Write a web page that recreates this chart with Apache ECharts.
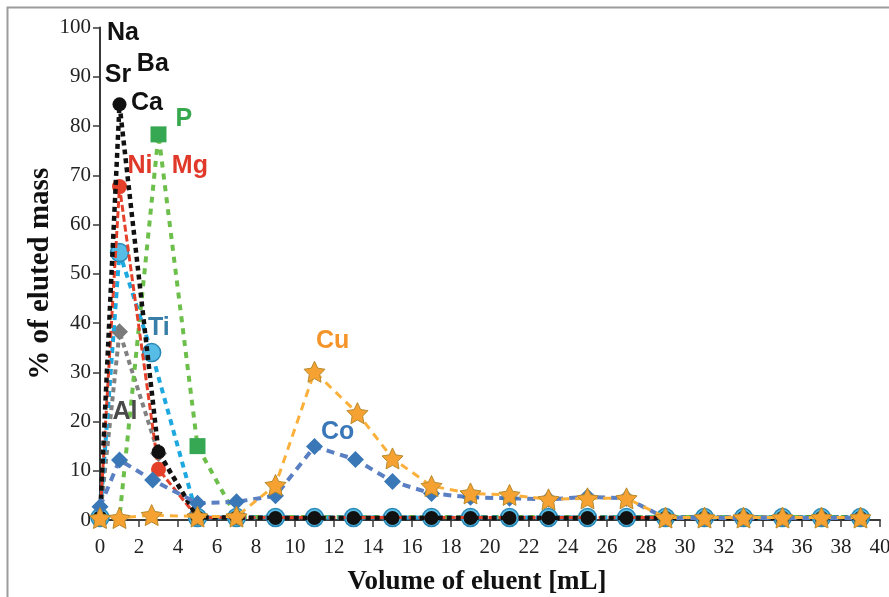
<!DOCTYPE html>
<html><head><meta charset="utf-8">
<script src="https://cdn.jsdelivr.net/npm/echarts@6/dist/echarts.min.js"></script>
<style>html,body{margin:0;padding:0;background:#fff}#c{width:889px;height:597px}</style>
</head><body><div id="c"></div>
<script>
// ---- data ----
const xTicks = [0,2,4,6,8,10,12,14,16,18,20,22,24,26,28,30,32,34,36,38,40];
const yTicks = [0,10,20,30,40,50,60,70,80,90,100];

const caX = [0,1,3,5,7,9,11,13,15,17,19,21,23,25,27,29,31,33,35,37,39];
const caY = [0.5,84.4,13.8,0.5,0.5,0.4,0.4,0.4,0.4,0.4,0.4,0.4,0.4,0.4,0.4,0.4,0.4,0.4,0.4,0.4,0.4];

const niX = [0,1,3,5,7,9,11,13,15,17,19,21,23,25,27,29,31,33,35,37,39];
const niY = [0.5,67.7,10.3,0.5,0.5,0.5,0.5,0.5,0.5,0.5,0.5,0.5,0.5,0.5,0.5,0.5,0.5,0.5,0.5,0.5,0.5];

const tiX = [0,1,2.65,5,7,9,11,13,15,17,19,21,23,25,27,29,31,33,35,37,39];
const tiY = [0.5,54.3,34.0,0.5,0.5,0.5,0.5,0.5,0.5,0.5,0.5,0.5,0.5,0.5,0.5,0.5,0.5,0.5,0.5,0.5,0.5];

const alX = [0,1,3,5,7,9,11,13,15,17,19,21,23,25,27,29,31,33,35,37,39];
const alY = [0.5,38.2,13.5,0.5,0.5,0.5,0.5,0.5,0.5,0.5,0.5,0.5,0.5,0.5,0.5,0.5,0.5,0.5,0.5,0.5,0.5];

const pX = [0,1,3,5,7,9,11,13,15,17,19,21,23,25,27,29,31,33,35,37,39];
const pY = [0.5,0.5,78.3,15.0,0.6,0.6,0.6,0.6,0.6,0.6,0.6,0.6,0.6,0.6,0.6,0.6,0.6,0.6,0.6,0.6,0.6];

const coX = [0,1,2.7,5,7,9,11,13.1,15,17,19,21,23,25,27,29,31,33,35,37,39];
const coY = [2.7,12.2,8.1,3.4,3.7,4.9,14.9,12.3,7.8,5.4,4.6,4.4,4.2,4.7,4.4,0.4,0.4,0.4,0.4,0.4,0.4];

const cuX = [0,1,2.65,5,7,9,11,13.2,15,17,19,21,23,25,27,29,31,33,35,37,39];
const cuY = [0.4,0.4,1.0,0.7,0.7,7.1,30.1,21.7,12.5,6.9,5.4,5.1,4.2,4.4,4.4,0.5,0.5,0.5,0.5,0.5,0.5];

// element labels: text and anchor in data units
const labelText = ['Na','Ba','Sr','Ca','P','Ni','Mg','Ti','Al','Cu','Co'];
const labelAtX  = [1.18,2.71,0.92,2.41,4.30,2.05,4.61,3.02,1.28,11.93,12.19];
const labelAtY  = [98.9,92.6,90.4,84.7,81.4,71.9,71.9,39.0,21.9,36.3,17.9];

const xTitle = 'Volume of eluent [mL]';
const yTitle = '% of eluted mass';

// ---- styles ----
const labelColor = {Na:'#111111',Ba:'#111111',Sr:'#111111',Ca:'#111111',P:'#37a84c',Ni:'#e0392a',Mg:'#e0392a',Ti:'#397ea9',Al:'#4a4a4a',Cu:'#f59428',Co:'#3a77b8'};
const STAR = 'path://M50 0 L64.69 29.77 L97.55 34.55 L73.78 57.73 L79.39 90.45 L50 75 L20.61 90.45 L26.22 57.73 L2.45 34.55 L35.31 29.77 Z';
const zip = (xs, ys) => xs.map((x, i) => [x, ys[i]]);
const bigOnly = (s) => (v) => (v[1] > 1.5 ? s : 0);
const SERIF = '"Liberation Serif", "Times New Roman", serif';

const chart = echarts.init(document.getElementById('c'), null, {renderer:'canvas'});

function lineSeries(name, xs, ys, o) {
  return {
    name, type:'line', data: zip(xs, ys), showAllSymbol:true, animation:false,
    lineStyle:{width:o.w, color:o.lc, type:o.dash, cap:'butt'},
    itemStyle:{color:o.mc, borderColor:o.bc || o.mc, borderWidth:o.bw || 0},
    symbol:o.sym, symbolSize:o.size, z:o.z
  };
}

const series = [
  lineSeries('Al', alX, alY, {w:4, lc:'#808080', dash:[5,4], mc:'#7a7a7a', sym:'diamond', size:bigOnly(17), z:2}),
  lineSeries('P', pX, pY, {w:4, lc:'#6cbf4a', dash:[6,6], mc:'#36a853', sym:'rect', size:bigOnly(16), z:3}),
  lineSeries('Ti', tiX, tiY, {w:4, lc:'#1ea8e0', dash:[6,5], mc:'#58bde6', bc:'#2a88b6', bw:1.5, sym:'circle', size:18, z:4}),
  lineSeries('Ni', niX, niY, {w:3, lc:'#e5402a', dash:[7,3], mc:'#e5402a', sym:'circle', size:bigOnly(15), z:5}),
  lineSeries('Ca', caX, caY, {w:4.5, lc:'#111111', dash:[5,4], mc:'#111111', sym:'circle', size:14, z:6}),
  lineSeries('Co', coX, coY, {w:4, lc:'#5a7fc2', dash:[8,6], mc:'#3a77b7', sym:'diamond', size:17, z:7}),
  lineSeries('Cu', cuX, cuY, {w:3, lc:'#fbb03b', dash:[8,6], mc:'#f6a233', bc:'#b88a2c', bw:1, sym:STAR, size:21, z:8})
];

const frame = {type:'rect', shape:{x:7.5, y:7.5, width:900, height:600}, style:{fill:'none', stroke:'#9c9c9c', lineWidth:2}, z:-1, silent:true};

chart.setOption({
  backgroundColor:'#ffffff',
  animation:false,
  grid:{left:100, right:9, top:27.5, bottom:77, containLabel:false, outerBoundsMode:'none'},
  xAxis:{
    type:'value', min:0, max:40, interval:2,
    name:xTitle, nameLocation:'middle', nameGap:49,
    nameTextStyle:{fontFamily:SERIF, fontWeight:'bold', fontSize:27, color:'#111', padding:[0,26,0,0]},
    axisLine:{lineStyle:{color:'#3a3a3a', width:2}},
    axisTick:{show:true, length:7, lineStyle:{color:'#3a3a3a', width:1.5}},
    axisLabel:{fontFamily:SERIF, fontSize:21, color:'#222', margin:17,
      formatter:(v) => (xTicks.includes(v) ? String(v) : '')},
    splitLine:{show:false}
  },
  yAxis:{
    type:'value', min:0, max:100, interval:10,
    axisLine:{show:true, lineStyle:{color:'#3a3a3a', width:2}},
    axisTick:{show:true, length:7, lineStyle:{color:'#3a3a3a', width:1.5}},
    axisLabel:{fontFamily:SERIF, fontSize:21, color:'#222', margin:9,
      formatter:(v) => (yTicks.includes(v) ? String(v) : '')},
    splitLine:{show:false}
  },
  graphic:[frame],
  series
});

// y-axis title, centred on the plot's vertical extent
const yMid = (chart.convertToPixel({gridIndex:0}, [0, 0])[1] + chart.convertToPixel({gridIndex:0}, [0, 100])[1]) / 2;
const yTitleEl = {type:'text', x:41, y:yMid, rotation:Math.PI / 2, z:20, silent:true,
  style:{text:yTitle, fill:'#111', font:'bold 29px ' + SERIF, textAlign:'center', textVerticalAlign:'middle'}};

// element-name annotations, placed through the chart's own scales
const texts = labelText.map((t, i) => {
  const p = chart.convertToPixel({gridIndex:0}, [labelAtX[i], labelAtY[i]]);
  return {type:'text', x:p[0], y:p[1], z:20, silent:true,
    style:{text:t, fill:labelColor[t], font:'bold 25px "Liberation Sans", Arial, sans-serif',
      textAlign:'center', textVerticalAlign:'middle'}};
});
chart.setOption({graphic:[frame, yTitleEl].concat(texts)});
</script>
</body></html>
